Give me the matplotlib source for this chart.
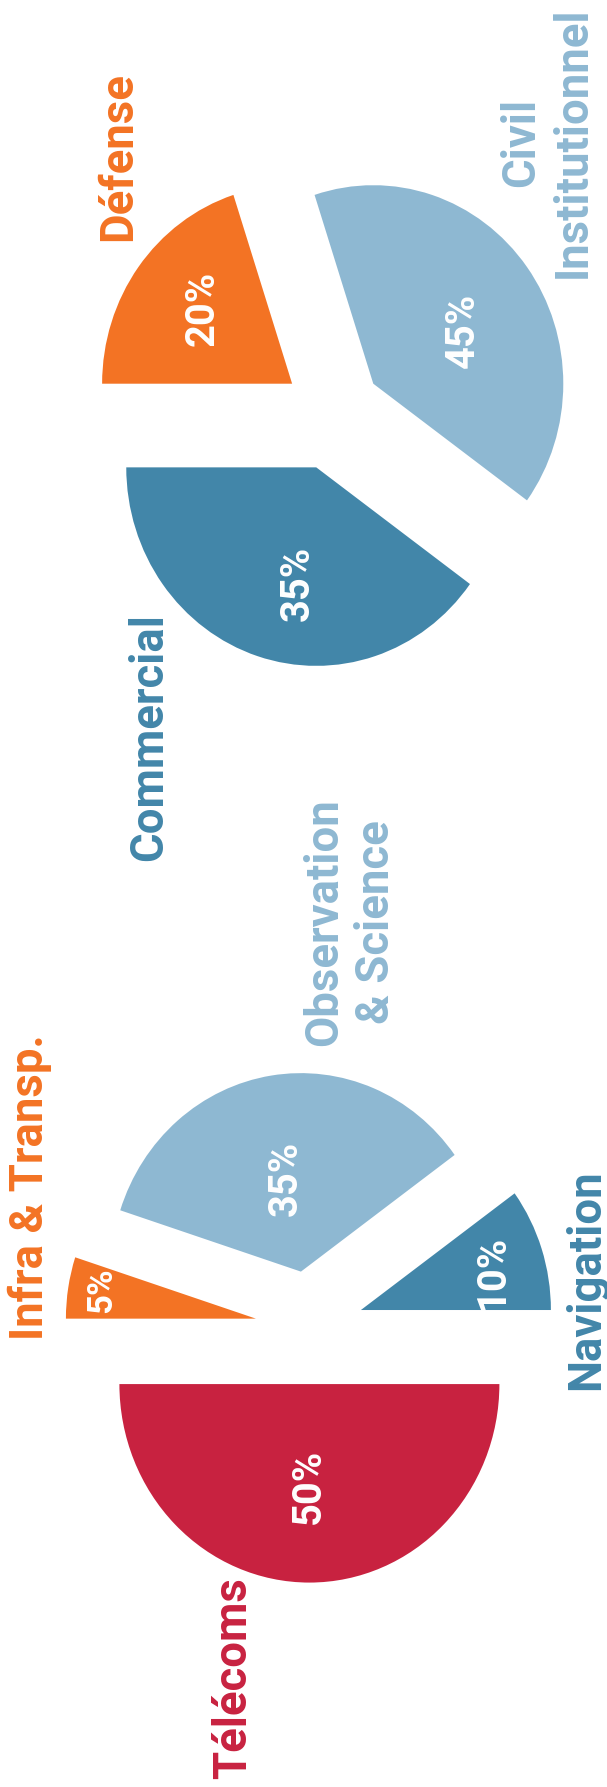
import matplotlib
matplotlib.use("Agg")
import matplotlib.pyplot as plt

# ---------------------------------------------------------------------------
# Data
# ---------------------------------------------------------------------------
# top pie: clients
client_labels = ["Commercial", "Civil\nInstitutionnel", "Défense"]
client_shares = [40, 40, 20]          # angular share as drawn
client_pct = ["35%", "45%", "20%"]

# bottom pie: applications
app_labels = ["Télécoms", "Navigation", "Observation\n& Science", "Infra & Transp."]
app_shares = [50, 10, 35, 5]
app_pct = ["50%", "10%", "35%", "5%"]

# ---------------------------------------------------------------------------
# Style
# ---------------------------------------------------------------------------
RED = "#C82240"
ORANGE = "#F37324"
LIGHT = "#8EB8D2"
DARK = "#4286A9"

client_colors = [DARK, LIGHT, ORANGE]
app_colors = [RED, DARK, LIGHT, ORANGE]

FONT = "Roboto"
W, H = 607, 1787
RX, RY = 190.0, 198.5                 # pie radius in px (slightly stretched in y)

# label anchor offsets (pie-radius units, relative to the pie centre)
client_label_pos = [(-0.896, -1.627), (1.129, 1.373), (-1.063, 1.299)]
client_label_va = ["baseline", "center", "baseline"]
client_pct_pos = [(-0.128, -0.850), (0.744, 0.422), (-0.628, 0.535)]
client_pct_size = [28.7, 28.7, 28.7]
client_explode = [0.28, 0.264, 0.264]

app_label_pos = [(-0.3305, -1.766), (1.524, 0.239), (0.215, 2.044), (-1.4005, 0.709)]
app_label_va = ["baseline", "baseline", "center", "baseline"]
app_pct_pos = [(0.056, -0.80), (1.024, 0.278), (-0.067, 0.752), (-1.041, 0.189)]
app_pct_size = [28.7, 28.7, 28.7, 25]
app_explode = [0.285, 0.285, 0.285, 0.285]


def pie_axes(fig, cx, cy):
    """Full-figure transparent axes whose unit is one pie radius, origin at (cx, cy) px."""
    ax = fig.add_axes([0, 0, 1, 1])
    ax.set_facecolor("none")
    return ax, ((0 - cx) / RX, (W - cx) / RX), ((cy - H) / RY, cy / RY)


def draw_pie(ax, xlim, ylim, shares, colors, explode, labels, label_pos, label_va,
             pcts, pct_pos, pct_size):
    ax.pie(shares, colors=colors, startangle=180, counterclock=True,
           explode=explode, radius=1, wedgeprops=dict(linewidth=0))
    ax.set_aspect("auto")
    ax.set_xlim(*xlim)
    ax.set_ylim(*ylim)
    ax.axis("off")

    for lab, (x, y), va, col in zip(labels, label_pos, label_va, colors):
        ax.text(x, y, lab, rotation=90, rotation_mode="anchor", ha="center", va=va,
                color=col, fontsize=32.8, fontweight="bold", family=FONT,
                multialignment="center", linespacing=1.22)

    for p, (x, y), fs in zip(pcts, pct_pos, pct_size):
        ax.text(x, y, p, rotation=90, rotation_mode="anchor", ha="center",
                va="baseline", color="white", fontsize=fs, fontweight="bold",
                family=FONT)


fig = plt.figure(figsize=(W / 100, H / 100), dpi=100)
fig.patch.set_facecolor("white")

ax_top, xl, yl = pie_axes(fig, 332.7, 414.5)
draw_pie(ax_top, xl, yl, client_shares, client_colors, client_explode, client_labels,
         client_label_pos, client_label_va, client_pct, client_pct_pos, client_pct_size)

ax_bot, xl, yl = pie_axes(fig, 309.4, 1327.5)
draw_pie(ax_bot, xl, yl, app_shares, app_colors, app_explode, app_labels,
         app_label_pos, app_label_va, app_pct, app_pct_pos, app_pct_size)

fig.savefig("out.png", dpi=100)
